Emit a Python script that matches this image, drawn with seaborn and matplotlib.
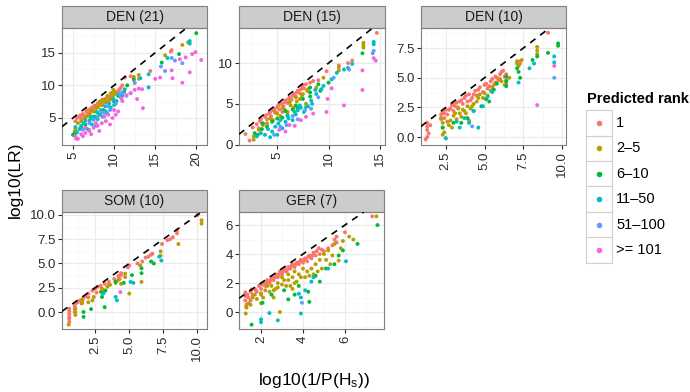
import pandas as pd
import seaborn as sns
import matplotlib.pyplot as plt
from matplotlib.patches import Rectangle
from matplotlib.lines import Line2D
from matplotlib.ticker import MultipleLocator, FormatStrFormatter

rank_labels = ['1', '2\u20135', '6\u201310', '11\u201350', '51\u2013100', '>= 101']
rank_colors = ['#F8766D', '#B79F00', '#00BA38', '#00BFC4', '#619CFF', '#F564E3']
panel_titles = ['DEN (21)', 'DEN (15)', 'DEN (10)', 'SOM (10)', 'GER (7)']

# points: (log10(1/P(Hs)), log10(LR)) per predicted rank
den21_r1 = [(5.3, 4.5), (5.5, 5.0), (5.8, 5.2), (5.9, 5.4), (6.0, 4.8), (6.2, 5.6), (6.3, 5.0),
            (6.4, 5.3), (6.6, 6.0), (6.7, 6.2), (6.8, 5.7), (7.0, 6.3), (7.1, 5.9), (7.2, 6.0),
            (7.3, 6.6), (7.5, 6.2), (7.6, 6.9), (7.7, 6.7), (7.8, 6.5), (8.0, 7.2), (8.1, 6.8),
            (8.2, 7.3), (8.3, 7.5), (8.5, 7.0), (8.6, 7.8), (8.7, 7.6), (8.8, 7.4), (9.0, 8.0),
            (9.2, 7.6), (9.3, 8.2), (9.5, 8.3), (9.6, 8.0), (9.8, 8.6), (10.0, 9.2), (10.2, 8.8),
            (10.4, 9.0), (10.6, 9.3), (10.8, 9.6), (11.0, 10.0), (11.3, 11.2), (12.0, 11.4),
            (12.5, 10.4), (13.0, 11.0), (14.4, 12.2), (17.0, 15.4), (16.9, 15.2)]
den21_r2 = [(5.3, 3.2), (5.2, 2.9), (5.6, 4.2), (6.0, 4.5), (6.5, 5.0), (6.8, 5.3), (7.0, 5.5),
            (7.2, 6.2), (7.5, 6.0), (7.8, 6.8), (8.0, 6.6), (8.2, 7.4), (8.4, 7.6), (8.5, 7.0),
            (8.8, 7.8), (9.0, 7.4), (9.2, 8.4), (9.5, 7.8), (9.6, 8.8), (9.8, 8.2), (9.9, 9.3),
            (10.0, 9.0), (10.0, 8.6), (12.4, 11.3), (13.0, 11.6), (16.2, 14.6), (18.3, 16.2),
            (19.0, 16.6)]
den21_r3 = [(5.0, 2.4), (5.2, 2.6), (6.0, 3.6), (6.5, 4.0), (7.2, 5.0), (7.6, 5.2), (8.0, 5.8),
            (8.7, 6.2), (9.3, 6.8), (10.0, 7.5), (10.5, 8.4), (11.2, 9.0), (11.6, 10.0), (12.4, 10.9),
            (15.8, 13.5), (17.9, 14.8), (20.0, 18.0)]
den21_r4 = [(5.3, 3.6), (5.5, 2.8), (5.8, 3.3), (6.0, 3.8), (6.3, 4.2), (6.5, 4.6), (6.6, 3.4),
            (6.9, 3.2), (7.0, 4.6), (7.2, 5.2), (7.3, 4.0), (7.6, 5.0), (7.8, 3.8), (7.9, 5.9),
            (8.0, 4.8), (8.3, 5.5), (8.4, 6.2), (8.6, 5.2), (8.9, 6.8), (9.0, 6.0), (9.2, 5.6),
            (9.4, 7.2), (9.6, 6.6), (9.9, 7.9), (10.0, 7.0), (10.3, 7.6), (10.5, 8.6), (10.8, 8.2),
            (11.0, 8.4), (11.3, 9.4), (12.0, 8.8), (13.2, 11.1), (14.2, 11.7), (14.2, 9.7),
            (16.5, 14.2), (19.2, 16.4), (19.2, 16.8)]
den21_r5 = [(6.2, 3.2), (7.0, 4.2), (7.5, 4.7), (8.0, 5.2), (8.5, 5.9), (8.8, 5.8), (9.2, 6.8),
            (9.5, 6.2), (10.2, 7.2), (10.7, 8.7), (11.0, 8.9), (11.5, 8.4), (12.5, 10.4), (15.7, 12.9),
            (16.2, 12.2), (17.0, 14.2), (17.4, 13.8), (18.3, 13.4)]
den21_r6 = [(5.3, 2.2), (5.4, 1.8), (5.6, 1.8), (6.0, 2.5), (6.2, 2.2), (6.5, 2.7), (6.5, 3.5),
            (7.0, 3.0), (7.2, 2.5), (7.5, 3.5), (7.8, 4.2), (8.0, 3.8), (8.2, 3.0), (8.5, 4.2),
            (8.8, 5.2), (9.0, 4.5), (9.3, 5.5), (9.5, 4.0), (9.8, 5.0), (10.0, 6.2), (10.2, 5.5),
            (10.5, 6.0), (10.9, 8.0), (11.0, 7.6), (11.5, 8.5), (12.0, 8.8), (12.5, 9.3), (13.0, 9.5),
            (13.4, 9.4), (12.8, 7.9), (13.5, 6.5), (15.0, 11.0), (15.6, 11.2), (17.1, 11.1),
            (17.0, 12.3), (18.3, 10.4), (19.2, 12.0), (18.0, 14.0), (18.7, 14.3), (19.5, 14.8),
            (19.9, 15.1), (20.6, 13.9)]

den15_r1 = [(1.9, 1.3), (2.3, 0.5), (2.6, 2.1), (3.0, 2.5), (3.2, 2.0), (3.3, 2.9), (3.4, 3.1),
            (3.5, 2.6), (3.8, 3.4), (3.9, 3.6), (4.0, 3.1), (4.2, 3.8), (4.3, 4.0), (4.4, 3.5),
            (4.5, 3.0), (4.6, 4.2), (4.7, 4.4), (4.8, 3.9), (5.0, 4.6), (5.1, 4.8), (5.2, 4.3),
            (5.3, 5.0), (5.4, 5.0), (5.5, 4.0), (5.6, 4.7), (5.7, 5.2), (5.8, 5.4), (6.0, 5.1),
            (6.1, 5.6), (6.2, 5.8), (6.4, 5.5), (6.5, 6.0), (6.6, 6.2), (6.8, 5.9), (6.9, 6.4),
            (7.0, 6.6), (7.2, 6.3), (7.3, 6.8), (7.4, 7.2), (7.5, 7.3), (7.6, 6.9), (7.8, 7.4),
            (8.2, 7.6), (8.5, 7.8), (9.0, 7.9), (9.8, 9.0), (11.0, 9.7), (11.9, 10.0), (12.3, 10.3),
            (14.7, 13.7)]
den15_r2 = [(2.7, 1.0), (2.7, 0.6), (3.2, 1.8), (3.6, 2.4), (4.0, 2.6), (4.3, 3.2), (4.6, 3.0),
            (4.8, 4.0), (5.0, 3.8), (5.3, 3.5), (5.5, 4.5), (5.7, 4.3), (6.0, 4.0), (6.2, 5.2),
            (6.3, 4.8), (6.6, 4.5), (6.8, 5.8), (6.9, 5.3), (7.2, 5.6), (7.4, 6.0), (7.5, 6.2),
            (7.8, 5.0), (7.9, 6.6), (8.0, 6.8), (8.8, 7.0), (9.5, 8.2), (11.0, 9.5), (11.0, 9.1),
            (13.4, 12.2), (13.4, 12.5), (13.4, 11.9)]
den15_r3 = [(2.8, 1.4), (3.1, 1.2), (3.5, 1.9), (3.6, 2.6), (4.0, 2.2), (4.5, 2.8), (5.0, 3.2),
            (5.5, 3.3), (5.8, 4.1), (6.0, 3.6), (6.5, 4.3), (6.8, 4.8), (7.0, 4.5), (7.5, 5.6),
            (8.2, 7.0), (8.2, 6.4), (8.2, 5.9), (9.0, 7.4), (9.2, 6.6), (10.0, 7.6), (13.3, 11.2)]
den15_r4 = [(3.0, 1.0), (3.4, 1.4), (3.8, 1.2), (4.1, 1.9), (4.3, 0.9), (4.5, 1.6), (4.8, 2.2),
            (5.0, 1.2), (5.1, 2.6), (5.3, 3.0), (5.5, 2.0), (5.8, 2.8), (6.0, 3.5), (6.1, 3.2),
            (6.5, 3.0), (6.7, 4.0), (6.8, 3.7), (7.0, 4.2), (7.2, 4.8), (7.3, 4.5), (7.6, 4.0),
            (7.8, 4.6), (8.0, 4.7), (8.3, 5.4), (8.4, 5.0), (8.7, 6.7), (8.8, 6.2), (9.3, 6.8),
            (9.5, 7.2), (10.3, 8.0), (10.8, 8.8), (11.5, 9.2), (11.9, 9.4), (12.3, 9.9),
            (14.4, 12.6), (14.4, 12.3)]
den15_r5 = [(4.7, 1.2), (5.3, 2.2), (5.9, 2.4), (6.5, 3.5), (7.0, 3.1), (7.7, 4.2), (8.3, 4.4),
            (9.0, 5.8), (10.5, 8.2), (12.0, 9.2), (14.4, 11.5), (14.3, 11.2)]
den15_r6 = [(5.2, 1.8), (5.8, 1.6), (6.2, 2.4), (6.7, 2.3), (7.3, 3.0), (7.8, 3.4), (8.5, 3.8),
            (9.8, 4.0), (9.9, 5.6), (10.3, 6.9), (11.5, 4.8), (13.3, 6.7), (13.3, 9.1), (14.4, 10.6),
            (14.6, 10.3)]

den10_r1 = [(1.3, 1.2), (1.3, 0.9), (1.3, 0.6), (1.4, 0.3), (1.3, 0.0), (1.2, -0.2), (1.5, 1.0),
            (2.2, 1.9), (2.2, 1.5), (2.3, 2.1), (2.4, 1.6), (2.4, 2.0), (2.5, 2.3), (2.6, 1.9),
            (2.7, 2.3), (2.8, 2.4), (2.9, 2.7), (3.0, 2.2), (3.0, 2.8), (3.1, 2.6), (3.2, 2.9),
            (3.3, 2.5), (3.4, 3.0), (3.5, 3.1), (3.6, 2.8), (3.7, 3.3), (3.8, 3.5), (3.9, 3.0),
            (4.0, 3.6), (4.1, 3.1), (4.2, 3.3), (4.3, 3.6), (4.4, 3.9), (4.5, 3.5), (4.6, 4.0),
            (4.7, 4.2), (4.9, 3.8), (5.0, 4.4), (5.1, 4.5), (5.2, 4.1), (5.3, 4.3), (5.4, 4.7),
            (5.5, 4.9), (5.6, 4.4), (5.7, 5.1), (5.8, 5.0), (5.9, 4.8), (6.0, 5.3), (6.1, 5.5),
            (6.2, 5.6), (6.3, 5.1), (6.4, 5.3), (6.4, 4.8), (6.4, 4.5), (7.3, 6.2), (7.3, 6.4),
            (9.1, 8.8)]
den10_r2 = [(2.2, 1.6), (2.3, 1.2), (2.3, 0.8), (2.4, 0.4), (2.3, 0.2), (2.5, -0.1), (2.6, 1.3),
            (2.7, 1.0), (2.9, 0.8), (2.8, 1.4), (3.0, 1.8), (3.1, 2.0), (3.2, 1.5), (3.3, 2.4),
            (3.4, 2.0), (3.5, 1.7), (3.6, 2.3), (3.7, 2.2), (3.8, 2.0), (3.9, 2.6), (4.0, 1.4),
            (4.1, 2.4), (4.2, 2.6), (4.3, 2.8), (4.5, 3.0), (4.6, 3.3), (4.7, 3.6), (4.9, 3.3),
            (5.0, 3.7), (5.2, 3.5), (5.4, 3.9), (5.5, 4.2), (5.7, 4.6), (6.0, 4.9), (6.1, 4.7),
            (6.3, 4.4), (6.6, 5.0), (7.1, 6.4), (7.1, 6.2), (7.2, 6.0), (7.4, 6.5), (8.4, 7.6),
            (8.4, 7.3), (8.4, 7.0)]
den10_r3 = [(9.75, 7.9), (9.75, 7.7), (9.1, 7.1), (8.1, 6.5), (8.4, 6.8), (7.1, 5.8), (7.2, 5.5),
            (7.3, 5.0), (6.4, 5.1), (6.4, 4.7), (6.4, 4.3), (5.8, 4.5), (5.6, 4.0), (5.3, 3.0),
            (5.1, 3.2), (4.8, 2.6), (4.3, 2.2), (3.9, 1.6), (3.5, 1.2), (3.0, 1.2), (2.3, 0.8)]
den10_r4 = [(9.5, 6.8), (9.5, 6.3), (8.2, 6.2), (7.9, 5.8), (7.2, 4.6), (5.5, 3.8), (5.2, 3.4),
            (4.9, 2.6), (4.3, 2.2), (4.0, 1.2), (3.7, 1.6), (3.4, 0.8), (3.2, 1.3), (4.6, 0.8),
            (2.5, -0.1)]
den10_r5 = [(9.5, 5.0), (4.2, 0.9)]
den10_r6 = [(9.5, 6.0), (8.4, 2.7)]

som10_r1 = [(10.0, 10.0), (8.5, 8.4), (8.5, 8.1), (8.2, 7.7), (8.0, 7.5), (7.8, 7.4), (7.4, 7.0),
            (6.7, 6.0), (6.6, 5.9), (6.4, 5.7), (6.2, 5.6), (5.95, 5.2), (5.6, 5.0), (5.0, 4.8),
            (4.9, 4.6), (4.4, 3.8), (4.4, 4.0), (4.3, 3.4), (4.2, 3.7), (3.9, 3.4), (3.5, 3.1),
            (3.5, 2.8), (3.2, 2.9), (2.9, 2.7), (2.7, 2.6), (2.6, 2.0), (2.5, 2.4), (2.3, 2.2),
            (2.0, 1.9), (2.0, 1.5), (1.8, 1.6), (1.6, 1.4), (1.5, 0.9), (1.4, 1.2), (1.2, 1.0),
            (1.05, 0.86), (1.0, 0.6), (1.0, 0.3), (1.0, 0.0), (0.6, 0.34), (0.6, 0.1), (0.6, -0.2),
            (0.6, -0.5), (0.6, -0.7), (0.6, -1.0)]
som10_r2 = [(10.3, 9.45), (10.3, 9.1), (8.6, 7.0), (7.3, 6.25), (7.3, 5.8), (5.8, 4.8), (5.9, 3.1),
            (5.0, 1.9), (4.7, 3.95), (4.7, 3.6), (4.4, 2.9), (4.2, 3.3), (4.0, 3.0), (3.6, 2.8),
            (3.4, 2.6), (3.2, 2.2), (3.0, 2.4), (2.9, 2.1), (2.4, 1.55), (2.3, 1.2), (2.0, 1.0),
            (1.55, 1.2), (1.55, 0.9), (1.05, 0.34), (1.05, 0.0), (1.05, -0.3), (0.56, -1.3)]
som10_r3 = [(6.8, 5.0), (6.6, 5.2), (5.9, 4.0), (5.9, 4.5), (5.2, 3.8), (4.6, 3.0), (4.0, 3.1),
            (3.25, 2.2), (3.0, 2.0), (3.0, 1.55), (3.2, 0.5), (2.2, 0.3), (1.65, 0.0), (1.65, -0.5)]
som10_r4 = [(7.2, 5.7), (7.35, 5.3), (5.1, 3.1), (5.3, 3.0), (4.0, 1.55), (4.1, 1.2), (3.1, 1.9)]
som10_r5 = []
som10_r6 = [(4.35, 2.05)]

ger7_r1 = [(1.25, 1.35), (1.25, 1.1), (1.25, 0.8), (1.3, 0.5), (1.3, 0.3), (1.35, 1.2), (1.4, 1.0),
           (1.5, 1.4), (1.5, 0.8), (1.55, 1.55), (1.6, 1.2), (1.7, 1.6), (1.75, 1.5), (1.8, 1.4),
           (1.9, 1.8), (2.0, 1.6), (2.0, 1.3), (2.05, 1.9), (2.1, 2.0), (2.2, 1.8), (2.25, 2.0),
           (2.3, 2.2), (2.4, 2.0), (2.45, 2.2), (2.5, 2.4), (2.6, 2.2), (2.65, 2.4), (2.7, 2.6),
           (2.8, 2.4), (2.85, 2.6), (2.9, 2.8), (3.0, 2.6), (3.05, 2.8), (3.1, 3.0), (3.2, 2.8),
           (3.25, 2.9), (3.3, 3.1), (3.4, 3.0), (3.45, 3.2), (3.5, 3.3), (3.6, 3.1), (3.65, 3.3),
           (3.7, 3.4), (3.8, 3.3), (3.85, 3.5), (3.9, 3.6), (4.0, 3.4), (4.05, 3.6), (4.1, 3.7),
           (4.2, 3.5), (4.25, 3.8), (4.3, 3.9), (4.4, 3.7), (4.45, 3.9), (4.5, 4.1), (4.6, 3.9),
           (4.65, 4.2), (4.75, 4.4), (4.8, 4.0), (4.9, 4.3), (5.0, 4.2), (5.2, 4.4), (5.4, 4.6),
           (5.5, 5.0), (5.6, 5.2), (5.6, 4.8), (6.0, 5.5), (7.3, 6.6)]
ger7_r2 = [(7.5, 6.6), (6.4, 5.0), (6.2, 5.2), (5.9, 4.9), (5.8, 4.4), (5.5, 4.7), (5.4, 3.9),
           (5.2, 4.25), (5.1, 3.6), (5.0, 4.0), (5.7, 3.55), (5.3, 3.3), (4.9, 3.0), (4.8, 3.6),
           (4.7, 2.8), (4.6, 3.3), (4.5, 2.6), (4.4, 3.0), (4.3, 2.5), (4.2, 2.8), (4.1, 2.4),
           (4.0, 3.0), (3.9, 2.4), (3.8, 2.6), (3.7, 2.1), (3.6, 2.8), (3.6, 2.0), (3.5, 2.4),
           (3.5, 1.6), (3.4, 1.8), (3.3, 2.6), (3.3, 2.2), (3.2, 1.8), (3.1, 2.2), (3.0, 2.4),
           (3.0, 1.9), (2.9, 0.0), (2.8, 2.0), (2.8, 1.7), (2.7, 1.6), (2.6, 1.0), (2.6, 1.5),
           (2.5, 1.8), (2.4, 1.4), (2.3, 1.8), (2.2, 1.5), (2.1, 1.0), (2.0, 1.2), (2.0, 0.6),
           (1.8, 0.9), (1.7, 1.2), (1.6, 1.0), (1.5, 0.5), (1.4, 0.6), (1.3, 0.35), (1.27, -0.1)]
ger7_r3 = [(7.55, 6.0), (6.6, 4.7), (5.9, 4.25), (5.7, 3.9), (5.5, 3.3), (5.1, 3.0), (4.8, 2.1),
           (4.6, 2.5), (4.25, 1.4), (4.3, 0.7), (3.8, 1.8), (3.6, 1.2), (3.3, 0.87), (3.1, 1.5),
           (2.5, 1.2), (2.07, 0.64), (1.55, -0.87)]
ger7_r4 = [(6.05, 3.5), (5.2, 3.0), (4.5, 2.4), (4.4, 2.1), (4.1, 1.5), (3.8, 1.26), (3.9, 1.0),
           (3.9, -0.1), (2.8, -0.57), (2.4, -0.07), (2.0, -0.5), (2.0, -0.7)]
ger7_r5 = [(3.95, 0.64)]
ger7_r6 = []

panel_points = [
    [den21_r1, den21_r2, den21_r3, den21_r4, den21_r5, den21_r6],
    [den15_r1, den15_r2, den15_r3, den15_r4, den15_r5, den15_r6],
    [den10_r1, den10_r2, den10_r3, den10_r4, den10_r5, den10_r6],
    [som10_r1, som10_r2, som10_r3, som10_r4, som10_r5, som10_r6],
    [ger7_r1, ger7_r2, ger7_r3, ger7_r4, ger7_r5, ger7_r6],
]

# axis ranges and breaks of each facet (free scales)
panel_xlim = [(3.66, 21.3), (1.27, 15.5), (0.9, 10.26), (0.07, 10.7), (0.95, 7.86)]
panel_ylim = [(0.85, 18.8), (-0.05, 14.3), (-0.67, 9.2), (-1.75, 10.3), (-1.17, 6.9)]
panel_xstep = [5, 5, 2.5, 2.5, 2]
panel_ystep = [5, 5, 2.5, 2.5, 2]
panel_fmt = ['%d', '%d', '%.1f', '%.1f', '%d']

# pixel boxes (left, top, width, height) on a 690x392 canvas
W, H = 690, 392
panel_boxes = [(62, 28, 145, 117), (239, 28, 146, 117), (421, 28, 145, 117),
               (62, 212, 145, 117), (239, 212, 145, 117)]
STRIP = 22


def panel_frame(groups):
    rows = []
    for label, pts in zip(rank_labels, groups):
        for x, y in pts:
            rows.append({'x': x, 'y': y, 'rank': label})
    return pd.DataFrame(rows)


sns.set_style('ticks')
plt.rcParams['font.family'] = ['Liberation Sans', 'DejaVu Sans']
txt = '#2B2B2B'
border = '#7F7F7F'

fig = plt.figure(figsize=(W / 100, H / 100), dpi=100)

for i, title in enumerate(panel_titles):
    l, t, w, h = panel_boxes[i]
    ax = fig.add_axes([l / W, 1 - (t + h) / H, w / W, h / H])
    df = panel_frame(panel_points[i])
    sns.scatterplot(data=df, x='x', y='y', hue='rank', hue_order=rank_labels,
                    palette=rank_colors, s=8, linewidth=0, legend=False, ax=ax, zorder=2)
    ax.axline((0, 0), slope=1, color='black', ls=(0, (4, 3.5)), lw=1.2, zorder=3)

    ax.set_xlim(panel_xlim[i])
    ax.set_ylim(panel_ylim[i])
    ax.xaxis.set_major_locator(MultipleLocator(panel_xstep[i]))
    ax.yaxis.set_major_locator(MultipleLocator(panel_ystep[i]))
    ax.xaxis.set_minor_locator(MultipleLocator(panel_xstep[i] / 2))
    ax.yaxis.set_minor_locator(MultipleLocator(panel_ystep[i] / 2))
    ax.xaxis.set_major_formatter(FormatStrFormatter(panel_fmt[i]))
    ax.yaxis.set_major_formatter(FormatStrFormatter(panel_fmt[i]))

    ax.grid(True, which='major', color='#EBEBEB', lw=0.9)
    ax.grid(True, which='minor', color='#F6F6F6', lw=0.5)
    ax.set_axisbelow(True)
    ax.tick_params(which='major', direction='out', length=3, width=0.8, color=txt,
                   labelsize=9.5, labelcolor=txt, pad=1.5)
    ax.tick_params(which='minor', length=0)
    ax.tick_params(axis='x', labelrotation=90)
    for sp in ax.spines.values():
        sp.set_visible(True)
        sp.set_color(border)
        sp.set_linewidth(0.8)
    ax.set_xlabel('')
    ax.set_ylabel('')

    ax.add_patch(Rectangle((0, 1), 1, STRIP / h, transform=ax.transAxes, clip_on=False,
                           facecolor='#CCCCCC', edgecolor=border, lw=0.8))
    ax.text(0.5, 1 + STRIP / 2 / h, title, transform=ax.transAxes, ha='center', va='center',
            fontsize=10, color='#1A1A1A')

fig.text(314 / W, 1 - 380 / H, r'$\mathregular{log10(1/P(H_s))}$', ha='center', va='center',
         fontsize=12.5, color='black')
fig.text(15 / W, 1 - 180 / H, 'log10(LR)', rotation=90, ha='center', va='center',
         fontsize=12.5, color='black')

# legend drawn as ggplot-style key boxes
fig.text(587 / W, 1 - 99 / H, 'Predicted rank', ha='left', va='center', fontsize=10.5,
         fontweight='bold', color='black')
for i, (lab, col) in enumerate(zip(rank_labels, rank_colors)):
    yc = 123 + 25.4 * i
    fig.add_artist(Rectangle((586 / W, 1 - (yc + 12.7) / H), 26 / W, 25.4 / H,
                             transform=fig.transFigure, facecolor='white',
                             edgecolor='#D0D0D0', lw=0.8))
    fig.add_artist(Line2D([599 / W], [1 - yc / H], marker='o', ms=4, mew=0, color=col,
                          transform=fig.transFigure))
    fig.text(616 / W, 1 - yc / H, lab, ha='left', va='center', fontsize=10.5, color='black')

fig.savefig('out.png', dpi=100)
